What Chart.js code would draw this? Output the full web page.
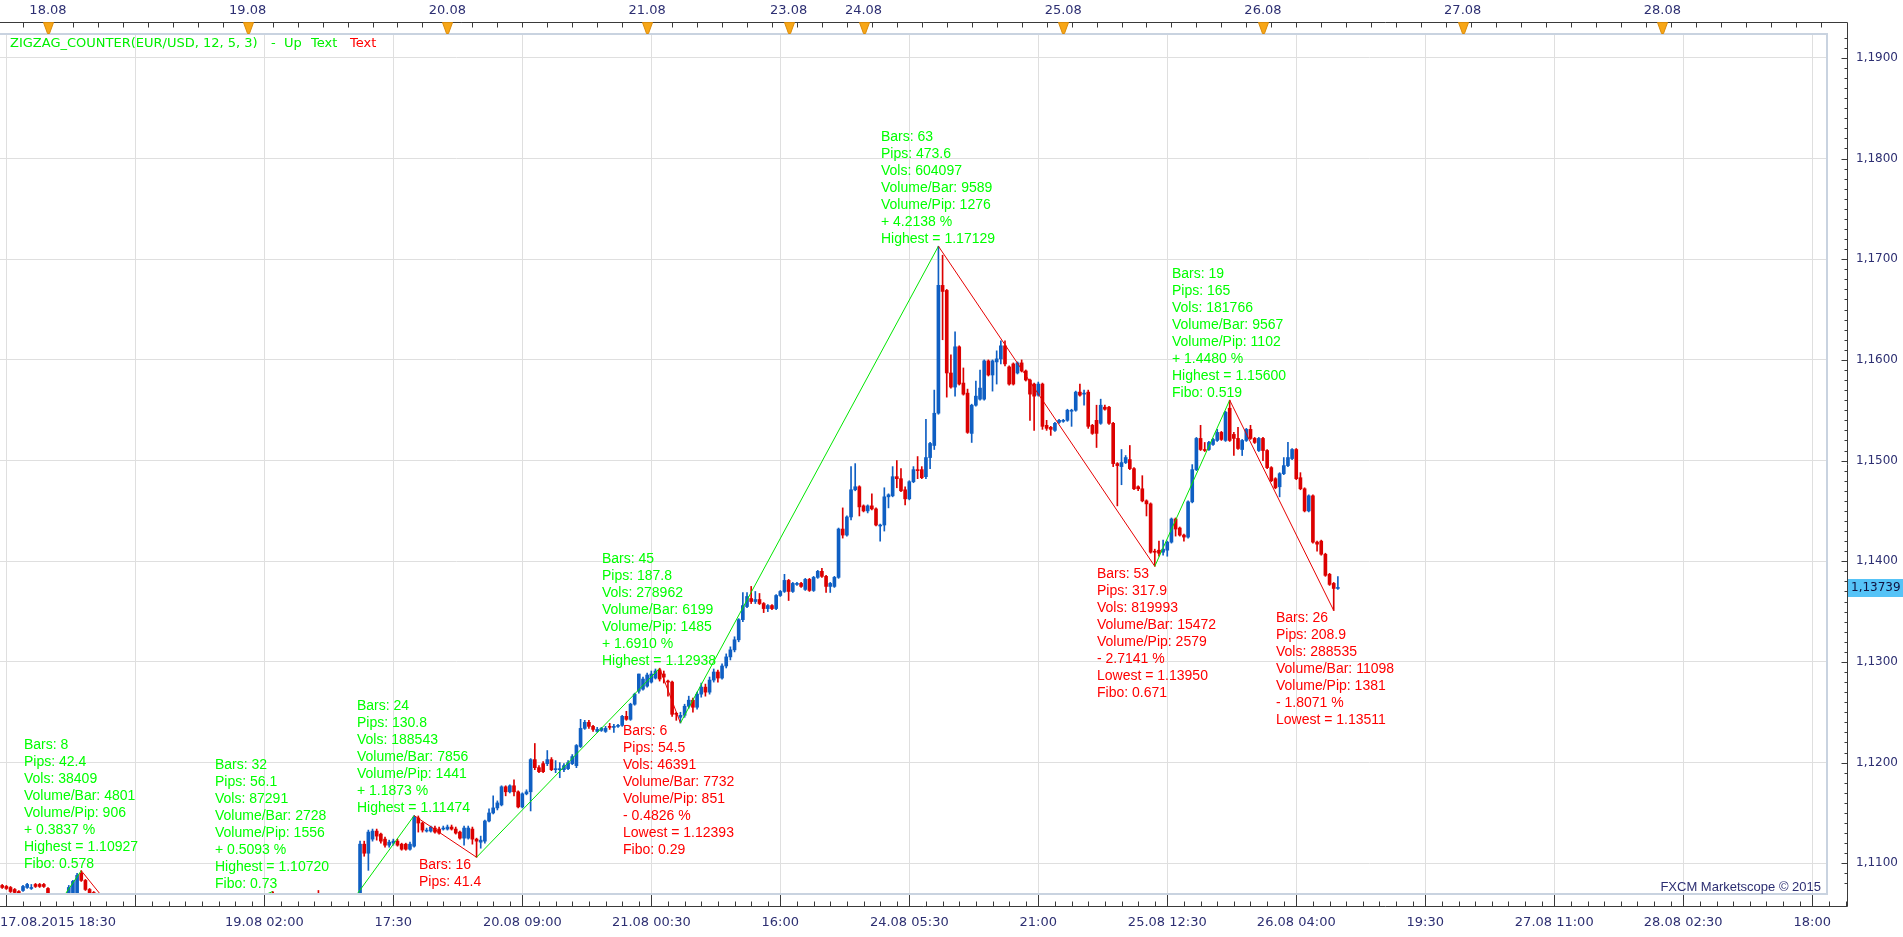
<!DOCTYPE html>
<html>
<head>
<meta charset="utf-8">
<title>EUR/USD 30 min - ZIGZAG_COUNTER</title>
<script src="https://cdn.jsdelivr.net/npm/chart.js@4.4.1/dist/chart.umd.min.js"></script>
<style>
html, body { margin: 0; padding: 0; background: #fff; }
#wrap { width: 1903px; height: 937px; }
</style>
</head>
<body>
<div id="wrap"><canvas id="myChart" width="1903" height="937"></canvas></div>
<script>
// 30 minute bars, index counted in trading time (weekend removed)
var barIdx = [0,1,2,3,4,5,6,7,8,9,10,11,16,17,18,19,20,21,22,65,76,
	86,87,88,89,90,91,92,93,94,95,96,97,98,99,100,101,102,103,104,105,
	106,107,108,109,110,111,112,113,114,115,116,117,118,119,120,121,122,123,124,125,
	126,127,128,129,130,131,132,133,134,135,136,137,138,139,140,141,142,143,144,145,
	146,147,148,149,150,151,152,153,154,155,156,157,158,159,160,161,162,163,164,165,
	166,167,168,169,170,171,172,173,174,175,176,177,178,179,180,181,182,183,184,185,
	186,187,188,189,190,191,192,193,194,195,196,197,198,199,200,201,202,203,204,205,
	206,207,208,209,210,211,212,213,214,215,216,217,218,219,220,221,222,223,224,225,
	226,227,228,229,230,231,232,233,234,235,236,237,238,239,240,241,242,243,244,245,
	246,247,248,249,250,251,252,253,254,255,256,257,258,259,260,261,262,263,264,265,
	266,267,268,269,270,271,272,273,274,275,276,277,278,279,280,281,282,283,284,285,
	286,287,288,289,290,291,292,293,294,295,296,297,298,299,300,301,302,303,304,305,
	306,307,308,309,310,311,312,313,314,315,316,317,318,319,320,321];

var opens = [1.1078,1.1077,1.1076,1.1074,1.1072,1.1073,1.1076,1.1075,1.1079,1.1079,1.1079,1.1075,
	1.1062,1.1068,1.1070,1.1090,1.1083,1.1074,1.1071,1.1068,1.1066,
	1.1062,1.1119,1.1110,1.1124,1.1132,1.1129,1.1124,1.1118,1.1120,1.1122,
	1.1119,1.1119,1.1114,1.1117,1.1145,1.1140,1.1132,1.1132,1.1135,1.1134,
	1.1134,1.1134,1.1136,1.1134,1.1131,1.1125,1.1125,1.1134,1.1124,1.1121,
	1.1122,1.1142,1.1150,1.1155,1.1158,1.1176,1.1171,1.1177,1.1171,1.1156,
	1.1169,1.1171,1.1203,1.1195,1.1199,1.1199,1.1203,1.1193,1.1193,1.1193,
	1.1194,1.1199,1.1197,1.1216,1.1234,1.1240,1.1236,1.1231,1.1232,1.1231,
	1.1236,1.1235,1.1236,1.1237,1.1246,1.1243,1.1258,1.1271,1.1273,1.1276,
	1.1280,1.1284,1.1292,1.1288,1.1281,1.1280,1.1249,1.1245,1.1247,1.1256,
	1.1262,1.1255,1.1268,1.1275,1.1270,1.1282,1.1290,1.1284,1.1296,1.1305,
	1.1312,1.1322,1.1342,1.1355,1.1363,1.1360,1.1362,1.1358,1.1353,1.1356,
	1.1353,1.1366,1.1370,1.1381,1.1370,1.1377,1.1378,1.1372,1.1382,1.1371,
	1.1384,1.1390,1.1385,1.1375,1.1375,1.1384,1.1432,1.1426,1.1444,1.1471,
	1.1474,1.1455,1.1450,1.1455,1.1452,1.1435,1.1436,1.1464,1.1465,1.1484,
	1.1482,1.1471,1.1462,1.1479,1.1491,1.1491,1.1484,1.1503,1.1515,1.1547,
	1.1674,1.1669,1.1587,1.1573,1.1613,1.1577,1.1567,1.1527,1.1555,1.1561,
	1.1561,1.1599,1.1585,1.1598,1.1601,1.1614,1.1593,1.1596,1.1587,1.1597,
	1.1589,1.1580,1.1576,1.1565,1.1576,1.1535,1.1533,1.1530,1.1538,1.1539,
	1.1540,1.1549,1.1550,1.1568,1.1566,1.1568,1.1535,1.1540,1.1537,1.1553,
	1.1553,1.1537,1.1497,1.1494,1.1498,1.1501,1.1492,1.1474,1.1472,1.1460,
	1.1457,1.1410,1.1411,1.1409,1.1411,1.1419,1.1442,1.1433,1.1426,1.1424,
	1.1459,1.1491,1.1522,1.1511,1.1511,1.1516,1.1520,1.1528,1.1520,1.1552,
	1.1526,1.1522,1.1511,1.1520,1.1531,1.1522,1.1510,1.1522,1.1510,1.1493,
	1.1482,1.1474,1.1487,1.1495,1.1502,1.1511,1.1483,1.1472,1.1450,1.1465,
	1.1419,1.1420,1.1407,1.1387,1.1378,1.1373];

var highs = [1.1079,1.1078,1.1077,1.1075,1.1073,1.1078,1.1080,1.1079,1.1080,1.1080,1.1080,1.1076,
	1.1078,1.1083,1.1090,1.10927,1.1084,1.1075,1.1072,1.1072,1.1073,
	1.1122,1.1122,1.1133,1.1134,1.1134,1.1130,1.1126,1.1123,1.1124,1.1124,
	1.1120,1.1120,1.1121,1.11474,1.1147,1.1141,1.1135,1.1137,1.1137,1.1136,
	1.1137,1.1138,1.1138,1.1136,1.1132,1.1137,1.1137,1.1136,1.1125,1.1127,
	1.1143,1.1154,1.1167,1.1162,1.1177,1.1177,1.1178,1.1183,1.1172,1.1170,
	1.1173,1.1204,1.1219,1.1197,1.1201,1.1212,1.1205,1.1202,1.1200,1.1199,
	1.1202,1.1208,1.1218,1.1243,1.1242,1.1242,1.1237,1.1235,1.1235,1.1236,
	1.1239,1.1238,1.1238,1.1247,1.1251,1.1259,1.1269,1.1288,1.1285,1.1289,
	1.1291,1.1293,1.12938,1.1291,1.1282,1.1281,1.1250,1.1250,1.1258,1.1266,
	1.1264,1.1270,1.1279,1.1278,1.1285,1.1293,1.1292,1.1298,1.1308,1.1315,
	1.1325,1.1343,1.1369,1.1369,1.1375,1.1370,1.1368,1.1359,1.1357,1.1357,
	1.1367,1.1371,1.1387,1.1382,1.1379,1.1379,1.1379,1.1383,1.1383,1.1385,
	1.1391,1.1393,1.1386,1.1379,1.1385,1.1433,1.1453,1.1445,1.1494,1.1497,
	1.1475,1.1456,1.1456,1.1467,1.1453,1.1437,1.1473,1.1467,1.1494,1.1500,
	1.1492,1.1474,1.1480,1.1494,1.1504,1.1494,1.1541,1.1518,1.1570,1.17129,
	1.1704,1.1670,1.1605,1.1628,1.1614,1.1592,1.1571,1.1556,1.1579,1.1590,
	1.1600,1.1600,1.1600,1.1609,1.1619,1.1619,1.1594,1.1597,1.1598,1.1600,
	1.1590,1.1581,1.1577,1.1578,1.1577,1.1540,1.1534,1.1538,1.1541,1.1541,
	1.1551,1.1551,1.1569,1.1576,1.1570,1.1570,1.1536,1.1555,1.1561,1.1555,
	1.1554,1.1538,1.1498,1.1511,1.1505,1.1515,1.1493,1.1475,1.1485,1.1461,
	1.1458,1.1412,1.1420,1.1421,1.1420,1.1443,1.1443,1.1434,1.1427,1.1460,
	1.1496,1.1523,1.1535,1.1518,1.1519,1.1522,1.1531,1.1529,1.1549,1.1560,
	1.1528,1.1533,1.1521,1.1532,1.1535,1.1523,1.1523,1.1523,1.1511,1.1494,
	1.1483,1.1488,1.1503,1.1518,1.1512,1.1512,1.1488,1.1473,1.1466,1.1466,
	1.1420,1.1421,1.1408,1.1388,1.1379,1.13848];

var lows = [1.1075,1.1074,1.1071,1.1069,1.1068,1.1072,1.1075,1.1074,1.1076,1.1076,1.1076,1.1066,
	1.1060,1.1066,1.1069,1.1082,1.1073,1.1068,1.1062,1.1058,1.10166,
	1.1058,1.1107,1.1093,1.1122,1.1123,1.1120,1.1116,1.1116,1.1118,1.1117,
	1.1113,1.1113,1.1113,1.1116,1.1131,1.1131,1.1131,1.1131,1.1130,1.1129,
	1.1133,1.1133,1.1133,1.1129,1.1124,1.1118,1.1124,1.1119,1.1106,1.1115,
	1.1120,1.1141,1.1149,1.1153,1.1157,1.1167,1.1170,1.1167,1.1155,1.1155,
	1.1168,1.1152,1.1193,1.1190,1.1190,1.1197,1.1192,1.1190,1.1185,1.1191,
	1.1193,1.1198,1.1195,1.1215,1.1233,1.1234,1.1231,1.1230,1.1231,1.1230,
	1.1233,1.1230,1.1235,1.1236,1.1242,1.1242,1.1257,1.1269,1.1272,1.1275,
	1.1279,1.1283,1.1281,1.1279,1.1266,1.1246,1.1242,1.12393,1.1245,1.1254,
	1.1250,1.1253,1.1265,1.1266,1.1268,1.1280,1.1280,1.1283,1.1294,1.1302,
	1.1310,1.1320,1.1340,1.1354,1.1358,1.1358,1.1357,1.1349,1.1350,1.1352,
	1.1352,1.1365,1.1369,1.1361,1.1369,1.1376,1.1374,1.1371,1.1370,1.1370,
	1.1383,1.1384,1.1369,1.1369,1.1374,1.1383,1.1423,1.1425,1.1441,1.1470,
	1.1445,1.1449,1.1448,1.1451,1.1435,1.1420,1.1430,1.1453,1.1464,1.1473,
	1.1469,1.1456,1.1461,1.1478,1.1482,1.1482,1.1482,1.1492,1.1511,1.1546,
	1.1620,1.1563,1.1572,1.1564,1.1575,1.1565,1.1527,1.1518,1.1554,1.1560,
	1.1560,1.1584,1.1569,1.1576,1.1596,1.1594,1.1575,1.1575,1.1586,1.1588,
	1.1579,1.1540,1.1530,1.1564,1.1531,1.1530,1.1525,1.1529,1.1537,1.1538,
	1.1539,1.1534,1.1549,1.1564,1.1555,1.1532,1.1526,1.1513,1.1536,1.1550,
	1.1536,1.1494,1.1455,1.1476,1.1497,1.1491,1.1471,1.1470,1.1459,1.1445,
	1.1408,1.1395,1.1405,1.1406,1.1405,1.1418,1.1425,1.1425,1.1420,1.1423,
	1.1458,1.1490,1.1510,1.1509,1.1510,1.1515,1.1519,1.1520,1.1519,1.1519,
	1.1505,1.1511,1.1505,1.1519,1.1521,1.1517,1.1509,1.1500,1.1492,1.1479,
	1.1472,1.1464,1.1486,1.1494,1.1501,1.1481,1.1471,1.1449,1.1449,1.1418,
	1.1410,1.1406,1.1385,1.1376,1.13511,1.1372];

var closes = [1.1076,1.1075,1.1072,1.1071,1.1070,1.1077,1.1079,1.1076,1.1077,1.1077,1.1077,1.1068,
	1.1076,1.1082,1.1088,1.1083,1.1074,1.1070,1.1064,1.1062,1.1060,
	1.1119,1.1110,1.1131,1.1132,1.1127,1.1122,1.1118,1.1121,1.1122,1.1118,
	1.1114,1.1114,1.1119,1.1146,1.1140,1.1133,1.1133,1.1136,1.1131,1.1130,
	1.1135,1.1136,1.1134,1.1130,1.1125,1.1135,1.1135,1.1124,1.1122,1.1123,
	1.1142,1.1150,1.1155,1.1160,1.1176,1.1171,1.1177,1.1171,1.1156,1.1169,
	1.1171,1.1203,1.1195,1.1191,1.1191,1.1203,1.1193,1.1194,1.1194,1.1197,
	1.1200,1.1206,1.1217,1.1234,1.1240,1.1236,1.1233,1.1233,1.1234,1.1234,
	1.1235,1.1236,1.1237,1.1246,1.1243,1.1258,1.1268,1.1288,1.1283,1.1287,
	1.1288,1.1291,1.1283,1.1285,1.1280,1.1248,1.1248,1.1247,1.1256,1.1262,
	1.1255,1.1268,1.1275,1.1270,1.1282,1.1290,1.1284,1.1296,1.1305,1.1312,
	1.1322,1.1342,1.1356,1.1365,1.1360,1.1362,1.1358,1.1353,1.1356,1.1353,
	1.1366,1.1370,1.1381,1.1370,1.1378,1.1378,1.1375,1.1382,1.1371,1.1384,
	1.1390,1.1385,1.1375,1.1378,1.1384,1.1432,1.1426,1.1444,1.1471,1.1474,
	1.1454,1.1450,1.1455,1.1452,1.1436,1.1436,1.1464,1.1466,1.1484,1.1482,
	1.1470,1.1462,1.1479,1.1491,1.1490,1.1483,1.1503,1.1517,1.1547,1.1674,
	1.1668,1.1587,1.1573,1.1613,1.1576,1.1566,1.1528,1.1555,1.1564,1.1572,
	1.1599,1.1585,1.1599,1.1601,1.1614,1.1596,1.1576,1.1576,1.1597,1.1589,
	1.1580,1.1566,1.1564,1.1576,1.1534,1.1532,1.1531,1.1537,1.1540,1.1540,
	1.1550,1.1550,1.1568,1.1565,1.1567,1.1534,1.1527,1.1527,1.1555,1.1551,
	1.1537,1.1497,1.1495,1.1498,1.1503,1.1492,1.1472,1.1472,1.1460,1.1457,
	1.1409,1.1409,1.1408,1.1412,1.1419,1.1442,1.1432,1.1426,1.1424,1.1459,
	1.1491,1.1522,1.1511,1.1510,1.1518,1.1521,1.1528,1.1521,1.1548,1.1520,
	1.1522,1.1512,1.1520,1.1531,1.1522,1.1518,1.1522,1.1510,1.1493,1.1480,
	1.1473,1.1487,1.1495,1.1503,1.1511,1.1482,1.1472,1.1450,1.1465,1.1419,
	1.1417,1.1407,1.1386,1.1377,1.1373,1.13739];

// zigzag pivots
var pivotBars = [12, 19, 34, 65, 76, 99, 114, 158, 163, 225, 277, 295, 320];
var pivotPrices = [1.10503, 1.10927, 1.10159, 1.10720, 1.10166, 1.11474, 1.11060, 1.12938, 1.12393, 1.17129, 1.13950, 1.15600, 1.13511];

// zigzag counter texts
var labelBars = [19, 65, 99, 114, 158, 163, 225, 277, 295, 320];
var labelSides = ['up', 'up', 'up', 'down', 'up', 'down', 'up', 'down', 'up', 'down'];
var labelTexts = [
	['Bars: 8', 'Pips: 42.4', 'Vols: 38409', 'Volume/Bar: 4801', 'Volume/Pip: 906', '+ 0.3837 %', 'Highest = 1.10927', 'Fibo: 0.578'],
	['Bars: 32', 'Pips: 56.1', 'Vols: 87291', 'Volume/Bar: 2728', 'Volume/Pip: 1556', '+ 0.5093 %', 'Highest = 1.10720', 'Fibo: 0.73'],
	['Bars: 24', 'Pips: 130.8', 'Vols: 188543', 'Volume/Bar: 7856', 'Volume/Pip: 1441', '+ 1.1873 %', 'Highest = 1.11474'],
	['Bars: 16', 'Pips: 41.4'],
	['Bars: 45', 'Pips: 187.8', 'Vols: 278962', 'Volume/Bar: 6199', 'Volume/Pip: 1485', '+ 1.6910 %', 'Highest = 1.12938'],
	['Bars: 6', 'Pips: 54.5', 'Vols: 46391', 'Volume/Bar: 7732', 'Volume/Pip: 851', '- 0.4826 %', 'Lowest = 1.12393', 'Fibo: 0.29'],
	['Bars: 63', 'Pips: 473.6', 'Vols: 604097', 'Volume/Bar: 9589', 'Volume/Pip: 1276', '+ 4.2138 %', 'Highest = 1.17129'],
	['Bars: 53', 'Pips: 317.9', 'Vols: 819993', 'Volume/Bar: 15472', 'Volume/Pip: 2579', '- 2.7141 %', 'Lowest = 1.13950', 'Fibo: 0.671'],
	['Bars: 19', 'Pips: 165', 'Vols: 181766', 'Volume/Bar: 9567', 'Volume/Pip: 1102', '+ 1.4480 %', 'Highest = 1.15600', 'Fibo: 0.519'],
	['Bars: 26', 'Pips: 208.9', 'Vols: 288535', 'Volume/Bar: 11098', 'Volume/Pip: 1381', '- 1.8071 %', 'Lowest = 1.13511']
];

// axes
var gridBars = [1, 32, 63, 94, 125, 156, 187, 218, 249, 280, 311, 342, 373, 404, 435];
var bottomTickBars = [1, 63, 94, 125, 156, 187, 218, 249, 280, 311, 342, 373, 404, 435];
var bottomTickLabels = ['17.08.2015 18:30', '19.08 02:00', '17:30', '20.08 09:00', '21.08 00:30', '16:00', '24.08 05:30', '21:00', '25.08 12:30', '26.08 04:00', '19:30', '27.08 11:00', '28.08 02:30', '18:00'];
var topTickBars = [11, 59, 107, 155, 189, 207, 255, 303, 351, 399];
var topTickLabels = ['18.08', '19.08', '20.08', '21.08', '23.08', '24.08', '25.08', '26.08', '27.08', '28.08'];
var priceLevels = [1.11, 1.12, 1.13, 1.14, 1.15, 1.16, 1.17, 1.18, 1.19];
var lastPrice = 1.13739;

var upColor = '#0f5fc3';
var downColor = '#dc0000';
var ink = '#2d2f72';

var candleColors = barIdx.map(function (b, i) { return closes[i] >= opens[i] ? upColor : downColor; });

function fmtPrice(v, d) {
	return v.toFixed(d).replace('.', ',');
}

var decorations = {
	id: 'decorations',
	afterDatasetsDraw: function (chart) {
		var ctx = chart.ctx, a = chart.chartArea;
		var xs = chart.scales.x, ys = chart.scales.y;
		ctx.save();
		ctx.beginPath();
		ctx.rect(a.left, a.top, a.right - a.left, a.bottom - a.top);
		ctx.clip();
		ctx.font = '14px "Liberation Sans", Arial, sans-serif';
		ctx.textBaseline = 'middle';
		ctx.textAlign = 'left';
		labelBars.forEach(function (b, i) {
			var p = pivotPrices[pivotBars.indexOf(b)];
			var up = labelSides[i] === 'up';
			var lines = labelTexts[i];
			var px = Math.round(xs.getPixelForValue(b) - 57.5);
			var py = ys.getPixelForValue(p);
			ctx.fillStyle = up ? '#00ff00' : '#ff0000';
			lines.forEach(function (t, k) {
				var ly = up ? py - 7 - (lines.length - 1 - k) * 17 : py + 8 + k * 17;
				ctx.fillText(t, px, ly);
			});
		});
		ctx.restore();
	},
	afterDraw: function (chart) {
		var ctx = chart.ctx, a = chart.chartArea;
		var xs = chart.scales.x, ys = chart.scales.y;
		var axisX = 1847.5, topY = 22.5, botY = 906.5;
		ctx.save();

		// plot frame
		ctx.strokeStyle = '#c9d3e0';
		ctx.lineWidth = 2;
		ctx.beginPath();
		ctx.moveTo(0, a.top - 1);
		ctx.lineTo(a.right + 1, a.top - 1);
		ctx.lineTo(a.right + 1, a.bottom + 1);
		ctx.lineTo(0, a.bottom + 1);
		ctx.stroke();

		// axis lines and ticks
		ctx.strokeStyle = '#3a3a3a';
		ctx.lineWidth = 1;
		ctx.beginPath();
		ctx.moveTo(0, topY); ctx.lineTo(axisX, topY);
		ctx.moveTo(axisX, topY); ctx.lineTo(axisX, botY);
		ctx.moveTo(0, botY); ctx.lineTo(axisX, botY);
		var b, px, k, py;
		// top: every 3 hours
		for (b = 5; b <= 441; b += 6) {
			if (b > 185 && b < 189) b = 189;
			px = Math.round(xs.getPixelForValue(b)) + 0.5;
			if (px < axisX) { ctx.moveTo(px, topY); ctx.lineTo(px, topY + 5); }
		}
		// bottom
		gridBars.forEach(function (g) {
			var x0 = Math.round(xs.getPixelForValue(g)) + 0.5;
			ctx.moveTo(x0, a.bottom + 2); ctx.lineTo(x0, botY);
			for (var j = 1; j <= 7; j++) {
				var x1 = Math.round(xs.getPixelForValue(g + j * 4)) + 0.5;
				if (x1 < axisX) { ctx.moveTo(x1, botY - 5); ctx.lineTo(x1, botY); }
			}
		});
		// right
		for (k = 1108; k <= 1192; k++) {
			py = Math.round(ys.getPixelForValue(k / 1000)) + 0.5;
			ctx.moveTo(k % 10 === 0 ? axisX - 6 : axisX - 3, py);
			ctx.lineTo(axisX, py);
		}
		ctx.stroke();

		// day markers
		topTickBars.forEach(function (t) {
			var x0 = Math.round(xs.getPixelForValue(t)) + 0.5;
			ctx.fillStyle = '#f8a717';
			ctx.strokeStyle = '#d98a0a';
			ctx.beginPath();
			ctx.moveTo(x0 - 5, topY);
			ctx.lineTo(x0 + 5, topY);
			ctx.lineTo(x0 + 1, topY + 11);
			ctx.lineTo(x0 - 1, topY + 11);
			ctx.closePath();
			ctx.fill();
			ctx.stroke();
		});

		// labels
		ctx.fillStyle = ink;
		ctx.textBaseline = 'middle';
		ctx.font = '13px "DejaVu Sans", Verdana, sans-serif';
		ctx.textAlign = 'center';
		topTickBars.forEach(function (t, i) {
			ctx.fillText(topTickLabels[i], xs.getPixelForValue(t), 11);
		});
		bottomTickBars.forEach(function (t, i) {
			if (i === 0) {
				ctx.textAlign = 'left';
				ctx.fillText(bottomTickLabels[i], 0, 923);
				ctx.textAlign = 'center';
			} else {
				ctx.fillText(bottomTickLabels[i], xs.getPixelForValue(t), 923);
			}
		});
		ctx.font = '12px "DejaVu Sans", Verdana, sans-serif';
		ctx.textAlign = 'left';
		priceLevels.forEach(function (v) {
			ctx.fillText(fmtPrice(v, 4), 1856, ys.getPixelForValue(v));
		});

		// last price box
		py = ys.getPixelForValue(lastPrice);
		ctx.fillStyle = '#55c3f7';
		ctx.fillRect(1848, Math.round(py) - 9, 55, 18);
		ctx.fillStyle = '#111340';
		ctx.fillText(fmtPrice(lastPrice, 5), 1851, py);

		// indicator legend
		ctx.font = '13px "DejaVu Sans", Verdana, sans-serif';
		ctx.fillStyle = '#00f000';
		ctx.fillText('ZIGZAG_COUNTER(EUR/USD, 12, 5, 3)', 10, 44);
		ctx.fillText('-', 271, 44);
		ctx.fillText('Up', 284, 44);
		ctx.fillText('Text', 311, 44);
		ctx.fillStyle = '#ff0000';
		ctx.fillText('Text', 350, 44);

		// credit
		ctx.font = '13px "Liberation Sans Narrow", "Liberation Sans", sans-serif';
		ctx.fillStyle = ink;
		ctx.textAlign = 'right';
		ctx.fillText('FXCM Marketscope \u00a9 2015', 1821, 887);
		ctx.restore();
	}
};

var ctx = document.getElementById('myChart').getContext('2d');
var myChart = new Chart(ctx, {
	type: 'bar',
	data: {
		datasets: [{
			type: 'line',
			data: pivotBars.map(function (b, i) { return { x: b, y: pivotPrices[i] }; }),
			borderWidth: 1,
			pointRadius: 0,
			tension: 0,
			segment: {
				borderColor: function (c) { return c.p1.parsed.y > c.p0.parsed.y ? '#00e600' : '#e60000'; }
			},
			order: 0
		}, {
			data: barIdx.map(function (b, i) { return { x: b, y: [opens[i], closes[i]] }; }),
			backgroundColor: candleColors,
			barThickness: 3,
			minBarLength: 1,
			grouped: false,
			order: 1
		}, {
			data: barIdx.map(function (b, i) { return { x: b, y: [lows[i], highs[i]] }; }),
			backgroundColor: candleColors,
			barThickness: 1,
			minBarLength: 1,
			grouped: false,
			order: 2
		}]
	},
	options: {
		responsive: false,
		devicePixelRatio: 1,
		animation: false,
		events: [],
		layout: { padding: { left: 0, top: 35, right: 77, bottom: 44 } },
		plugins: {
			legend: { display: false },
			tooltip: { enabled: false }
		},
		scales: {
			x: {
				type: 'linear',
				min: -0.529,
				max: 438.31,
				offset: false,
				afterBuildTicks: function (s) { s.ticks = gridBars.map(function (v) { return { value: v }; }); },
				afterFit: function (s) { s.height = 0; },
				ticks: { display: false },
				grid: { color: '#dfdfdf', drawTicks: false, offset: false },
				border: { display: false }
			},
			y: {
				position: 'right',
				min: 1.10705,
				max: 1.19227,
				afterBuildTicks: function (s) { s.ticks = priceLevels.map(function (v) { return { value: v }; }); },
				afterFit: function (s) { s.width = 0; },
				ticks: { display: false },
				grid: { color: '#dfdfdf', drawTicks: false },
				border: { display: false }
			}
		}
	},
	plugins: [decorations]
});
</script>
</body>
</html>
